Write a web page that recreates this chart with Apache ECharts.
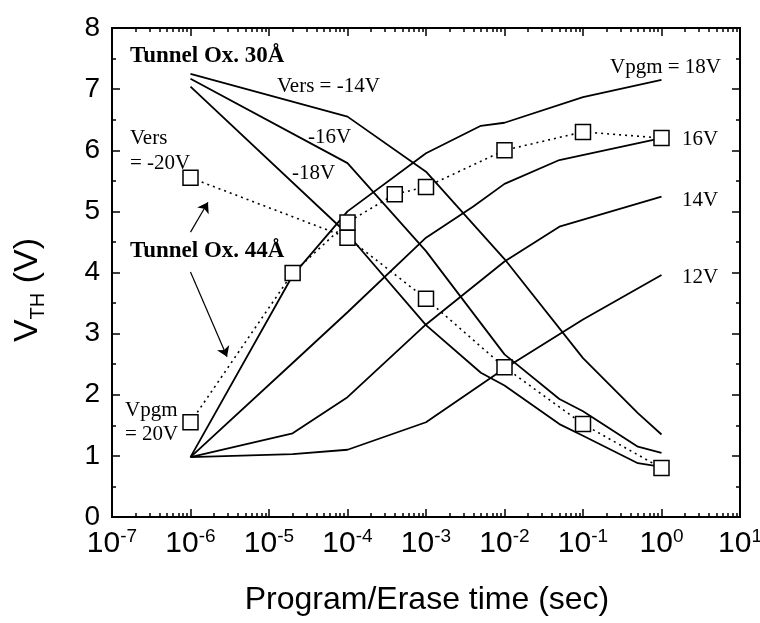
<!DOCTYPE html>
<html>
<head>
<meta charset="utf-8">
<script src="https://cdn.jsdelivr.net/npm/echarts@6/dist/echarts.min.js"></script>
<style>
html, body { margin: 0; background: #fff; }
#chart { width: 760px; height: 623px; }
</style>
</head>
<body>
<div id="chart"></div>
<script>
// log time axis, major ticks at each decade
var decadeTicks = [1e-7, 1e-6, 1e-5, 1e-4, 1e-3, 1e-2, 1e-1, 1e0, 1e1];
var minorTicks = [];
for (var d = -7; d < 1; d++) {
    for (var m = 2; m <= 9; m++) {
        minorTicks.push(m * Math.pow(10, d));
    }
}

// Tunnel Ox. 30A - erase curves
var ers14T = [1e-6, 1e-4, 1e-3, 1e-2, 1e-1, 5e-1, 1];
var ers14V = [7.25, 6.55, 5.65, 4.22, 2.60, 1.70, 1.35];
var ers16T = [1e-6, 1e-4, 1e-3, 1e-2, 5e-2, 1e-1, 5e-1, 1];
var ers16V = [7.17, 5.79, 4.35, 2.66, 1.93, 1.73, 1.15, 1.05];
var ers18T = [1e-6, 1e-4, 1e-3, 5e-3, 1e-2, 5e-2, 1e-1, 5e-1, 1];
var ers18V = [7.04, 4.63, 3.14, 2.36, 2.15, 1.52, 1.33, 0.88, 0.82];

// Tunnel Ox. 30A - program curves
var pgm12T = [1e-6, 2e-5, 1e-4, 1e-3, 1e-2, 1e-1, 1];
var pgm12V = [0.98, 1.03, 1.10, 1.55, 2.43, 3.23, 3.96];
var pgm14T = [1e-6, 2e-5, 1e-4, 1e-3, 1e-2, 5e-2, 1];
var pgm14V = [0.98, 1.37, 1.96, 3.15, 4.18, 4.75, 5.24];
var pgm16T = [1e-6, 2e-5, 1e-4, 1e-3, 4e-3, 1e-2, 5e-2, 1];
var pgm16V = [0.98, 2.52, 3.35, 4.57, 5.08, 5.45, 5.84, 6.20];
var pgm18T = [1e-6, 2e-5, 1e-4, 1e-3, 5e-3, 1e-2, 1e-1, 1];
var pgm18V = [0.98, 3.95, 5.00, 5.95, 6.40, 6.45, 6.87, 7.15];

// Tunnel Ox. 44A - squares (Vers = -20V, Vpgm = 20V)
var ers20T = [1e-6, 1e-4, 1e-3, 1e-2, 1e-1, 1];
var ers20V = [5.55, 4.57, 3.57, 2.45, 1.52, 0.80];
var pgm20T = [1e-6, 2e-5, 1e-4, 4e-4, 1e-3, 1e-2, 1e-1, 1];
var pgm20V = [1.55, 3.99, 4.82, 5.28, 5.40, 6.00, 6.30, 6.20];

var serif = '"Liberation Serif", "Times New Roman", serif';
var sans = '"Liberation Sans", Arial, sans-serif';

function pairs(t, v) {
    return t.map(function (x, i) { return [x, v[i]]; });
}

function solid(name, t, v) {
    return {
        name: name, type: 'line', data: pairs(t, v),
        symbol: 'none', z: 2,
        itemStyle: { color: '#000' },
        lineStyle: { color: '#000', width: 1.8 }
    };
}

function squares(name, t, v) {
    return {
        name: name, type: 'line', data: pairs(t, v),
        symbol: 'rect', symbolSize: 15, z: 3,
        itemStyle: { color: '#fff', borderColor: '#000', borderWidth: 1.5 },
        lineStyle: { color: '#000', width: 1.6, type: [2, 4] }
    };
}

function xAxisDef(pos, ticks, len, labels) {
    return {
        type: 'log', logBase: 10, min: 1e-7, max: 10, position: pos,
        axisLine: { show: true, lineStyle: { color: '#000', width: 2 } },
        axisTick: { show: true, inside: true, length: len, customValues: ticks,
                    lineStyle: { color: '#000', width: 1.5 } },
        axisLabel: {
            show: labels, customValues: decadeTicks, margin: 10, color: '#000',
            formatter: function (val) {
                return '{b|10}{s|' + Math.round(Math.log10(val)) + '}';
            },
            rich: {
                b: { fontFamily: sans, fontSize: 30, lineHeight: 34, color: '#000' },
                s: { fontFamily: sans, fontSize: 19, lineHeight: 20, verticalAlign: 'top', color: '#000' }
            }
        },
        splitLine: { show: false },
        minorTick: { show: false }
    };
}

function yAxisDef(pos, labels) {
    return {
        type: 'value', min: 0, max: 8, interval: 1, position: pos,
        axisLine: { show: true, lineStyle: { color: '#000', width: 2 } },
        axisTick: { show: true, inside: true, length: 8, lineStyle: { color: '#000', width: 1.5 } },
        minorTick: { show: true, splitNumber: 2, length: 4, lineStyle: { color: '#000', width: 1.5 } },
        axisLabel: { show: labels, fontFamily: sans, fontSize: 28, color: '#000', margin: 12 },
        splitLine: { show: false }
    };
}

// annotation texts: [text, left x, middle y, font size, bold]
var notes = [
    ['Tunnel Ox. 30Å', 130, 56, 23, true],
    ['Vers = -14V', 277, 86, 21, false],
    ['-16V', 308, 137, 21, false],
    ['-18V', 292, 173, 21, false],
    ['Vers', 130, 138, 21, false],
    ['= -20V', 130, 163, 21, false],
    ['Tunnel Ox. 44Å', 130, 251, 23, true],
    ['Vpgm', 125, 410, 21, false],
    ['= 20V', 125, 434, 21, false],
    ['Vpgm = 18V', 610, 67, 21, false],
    ['16V', 682, 139, 21, false],
    ['14V', 682, 200, 21, false],
    ['12V', 682, 277, 21, false]
];

var graphics = notes.map(function (n) {
    return {
        type: 'text', x: n[1], y: n[2], z: 10,
        style: { text: n[0], fontFamily: serif, fontSize: n[3], verticalAlign: 'middle',
                 fontWeight: n[4] ? 'bold' : 'normal', fill: '#000' }
    };
});

graphics.push({
    type: 'text', x: 28, y: 290, rotation: Math.PI / 2, z: 10,
    style: {
        text: '{a|V}{b|TH}{a| (V)}', align: 'center', verticalAlign: 'middle',
        rich: {
            a: { fontFamily: sans, fontSize: 34, lineHeight: 40, fill: '#000' },
            b: { fontFamily: sans, fontSize: 20, lineHeight: 22, verticalAlign: 'bottom', fill: '#000' }
        }
    }
});

graphics.push({
    type: 'text', x: 427, y: 600, z: 10,
    style: { text: 'Program/Erase time (sec)', align: 'center', verticalAlign: 'middle',
             fontFamily: sans, fontSize: 32, fill: '#000' }
});

// arrows pointing from the "Tunnel Ox. 44A" label to the square curves
var arrowLine = solid('arrows', [], []);
arrowLine.markLine = {
    silent: true, symbol: ['none', 'arrow'], symbolSize: 10,
    itemStyle: { color: '#000' },
    lineStyle: { color: '#000', width: 1.2, type: 'solid' },
    label: { show: false },
    data: [
        [{ coord: [1e-6, 4.66] }, { coord: [1.67e-6, 5.15] }],
        [{ coord: [1e-6, 4.01] }, { coord: [2.92e-6, 2.62] }]
    ]
};

var chart = echarts.init(document.getElementById('chart'));
chart.setOption({
    animation: false,
    backgroundColor: '#fff',
    grid: { left: 112, right: 20, top: 28, bottom: 106, outerBoundsMode: 'none' },
    xAxis: [
        xAxisDef('bottom', decadeTicks, 8, true),
        xAxisDef('bottom', minorTicks, 4, false),
        xAxisDef('top', decadeTicks, 8, false),
        xAxisDef('top', minorTicks, 4, false)
    ],
    yAxis: [yAxisDef('left', true), yAxisDef('right', false)],
    graphic: graphics,
    series: [
        solid('Vers = -14V', ers14T, ers14V),
        solid('-16V', ers16T, ers16V),
        solid('-18V', ers18T, ers18V),
        solid('12V', pgm12T, pgm12V),
        solid('14V', pgm14T, pgm14V),
        solid('16V', pgm16T, pgm16V),
        solid('Vpgm = 18V', pgm18T, pgm18V),
        arrowLine,
        squares('Vers = -20V', ers20T, ers20V),
        squares('Vpgm = 20V', pgm20T, pgm20V)
    ]
});
</script>
</body>
</html>
